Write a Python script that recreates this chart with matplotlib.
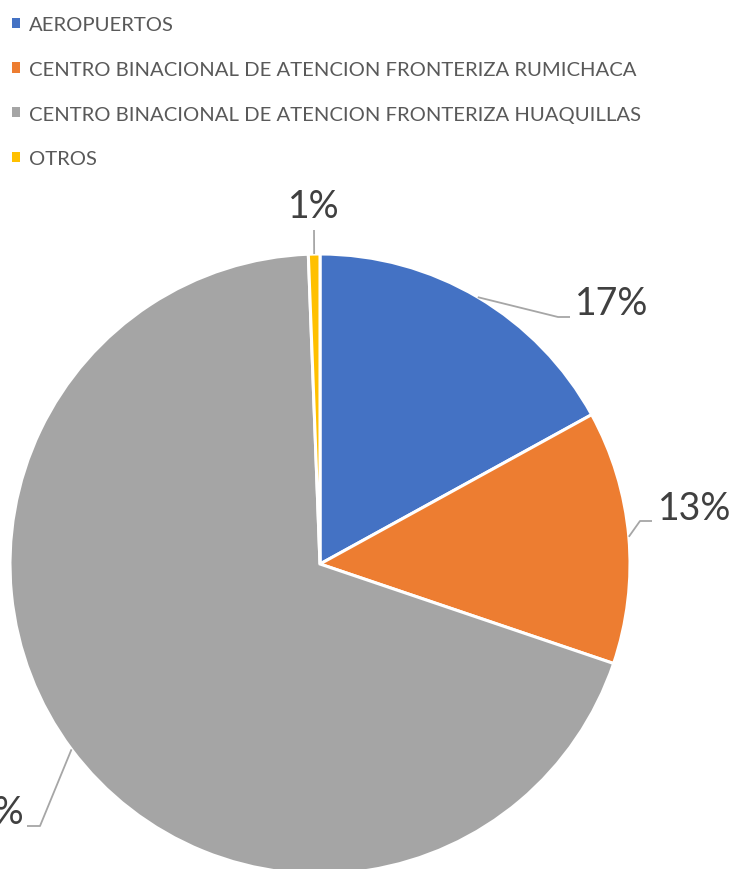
import numpy as np
import matplotlib.pyplot as plt

plt.rcParams['font.family'] = ['Lato', 'DejaVu Sans']

# data
categorias = ["AEROPUERTOS",
              "CENTRO BINACIONAL DE ATENCION FRONTERIZA RUMICHACA",
              "CENTRO BINACIONAL DE ATENCION FRONTERIZA HUAQUILLAS",
              "OTROS"]
porcentajes = [17.0, 13.2, 69.2, 0.6]
colores = ["#4472C4", "#ED7D31", "#A5A5A5", "#FFC000"]

# label text position + leader elbow/end (pixel coords, y up)
etiquetas_pos = [(575, 566, 'left'), (658, 361, 'left'), (24, 57, 'right'), (314, 663, 'center')]
guias = [[(558, 552), (570, 552)],
         [(640, 348), (652, 348)],
         [(40, 43), (27, 43)],
         [(314, 639)]]

W, H = 732, 870
fig = plt.figure(figsize=(W / 100, H / 100), dpi=100)
ax = fig.add_axes([0, 0, 1, 1])

cx, cy, r = 320, 305, 310
wedges, _ = ax.pie(porcentajes, colors=colores, startangle=90, counterclock=False,
                   center=(cx, cy), radius=r,
                   wedgeprops=dict(edgecolor='white', linewidth=2.2))
ax.set_xlim(0, W)
ax.set_ylim(0, H)
ax.set_aspect('equal')
ax.axis('off')

for w, v, (tx, ty, ha), g in zip(wedges, porcentajes, etiquetas_pos, guias):
    ang = np.deg2rad((w.theta1 + w.theta2) / 2)
    px, py = cx + r * np.cos(ang), cy + r * np.sin(ang)
    xs = [px] + [p[0] for p in g]
    ys = [py] + [p[1] for p in g]
    ax.plot(xs, ys, color='#A6A6A6', lw=1.3, solid_capstyle='butt', clip_on=False)
    ax.text(tx, ty, f"{v:.0f}%", ha=ha, va='center', fontsize=27, color='#404040')

leg = ax.legend(wedges, categorias, loc='upper left',
                bbox_to_anchor=(12 / W, 1 - 17 / H), bbox_transform=fig.transFigure,
                frameon=False, fontsize=14.6, labelcolor='#595959',
                handlelength=0.4, handleheight=0.4, handletextpad=0.42,
                labelspacing=1.37, borderpad=0, borderaxespad=0)
for h in leg.legend_handles:
    h.set_edgecolor('none')

fig.savefig('out.png', dpi=100)
